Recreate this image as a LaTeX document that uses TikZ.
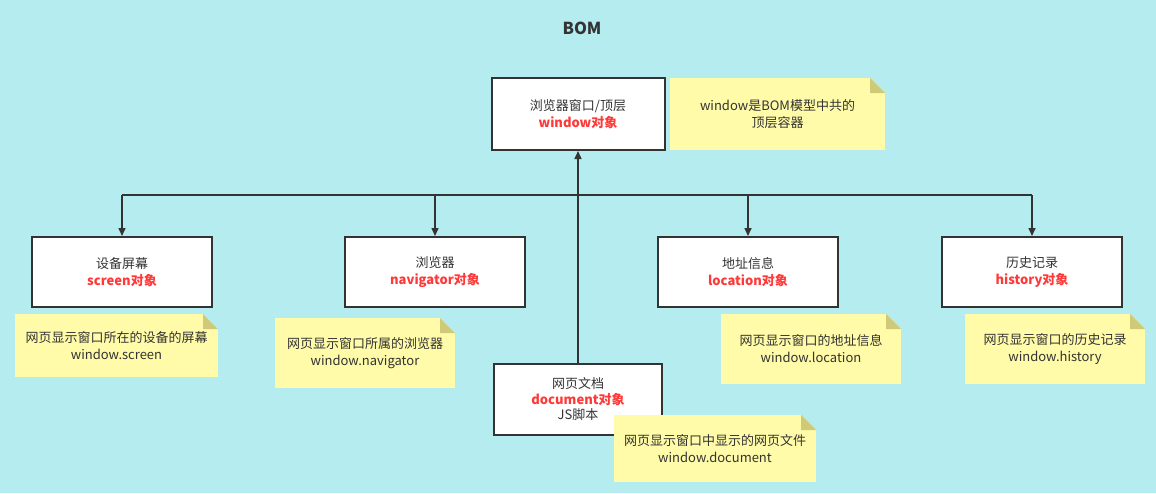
\documentclass[tikz,border=0pt]{standalone}
\usepackage{fontspec}
\setmainfont{Noto Sans CJK SC}
\usetikzlibrary{arrows.meta}
\definecolor{bg}{HTML}{B4ECF0}
\definecolor{ink}{HTML}{333333}
\definecolor{objred}{HTML}{FF3838}
\definecolor{notefill}{HTML}{FFFBA8}
\definecolor{notefold}{HTML}{CFCA78}
\newcommand{\obj}[1]{{\bfseries\color{objred}#1}}
\begin{document}
\begin{tikzpicture}[x=1pt,y=-1pt,
  txt/.style={text=ink, align=center, font=\fontsize{13}{17}\selectfont},
  objbox/.style={txt, draw=ink, line width=2pt, fill=white, inner sep=0pt,
    minimum width=180pt, minimum height=70pt},
  note/.style={txt, fill=notefill, inner sep=0pt,
    minimum width=180pt, minimum height=70pt,
    path picture={
      \fill[bg] ([xshift=-15pt]path picture bounding box.north east)
        -- (path picture bounding box.north east)
        -- ([yshift=-15pt]path picture bounding box.north east) -- cycle;
      \fill[notefold] ([xshift=-15pt]path picture bounding box.north east)
        -- ([xshift=-15pt,yshift=-15pt]path picture bounding box.north east)
        -- ([yshift=-15pt]path picture bounding box.north east) -- cycle;
    }},
  wire/.style={draw=ink, line width=1.5pt},
  tip/.style={-{Triangle[length=8pt,width=7pt]}}
]
\fill[bg] (0,0) rectangle (1156,493);

% title
\node[text=ink, font=\fontsize{16.5}{20}\selectfont\bfseries] (title) at (582,28) {BOM};

% objects
\node[objbox, minimum width=173pt, minimum height=72pt] (window) at (578,114)
  {浏览器窗口/顶层\\\obj{window对象}};
\node[objbox] (screen) at (122,272) {设备屏幕\\\obj{screen对象}};
\node[objbox] (navigator) at (435,272) {浏览器\\\obj{navigator对象}};
\node[objbox] (location) at (748,272) {地址信息\\\obj{location对象}};
\node[objbox] (history) at (1032,272) {历史记录\\\obj{history对象}};
\node[objbox, minimum width=168pt, minimum height=71pt,
  font=\fontsize{13}{15.5}\selectfont] (document) at (578,399.5)
  {网页文档\\\obj{document对象}\\JS脚本};

% notes
\node[note, minimum width=215pt, minimum height=72pt] (windownote) at (777.5,114)
  {window是BOM模型中共的\\顶层容器};
\node[note, minimum width=203pt, minimum height=63pt] (screennote) at (116.5,345.5)
  {网页显示窗口所在的设备的屏幕\\window.screen};
\node[note] (navigatornote) at (365,353)
  {网页显示窗口所属的浏览器\\window.navigator};
\node[note] (locationnote) at (811,349)
  {网页显示窗口的地址信息\\window.location};
\node[note] (historynote) at (1055,349)
  {网页显示窗口的历史记录\\window.history};
\node[note, minimum width=202pt, minimum height=67pt] (documentnote) at (715,448.5)
  {网页显示窗口中显示的网页文件\\window.document};

% connectors
\coordinate (bus) at (578,195);
\draw[wire] (screen.north |- bus) -- (history.north |- bus);
\foreach \c in {screen,navigator,location,history}
  \draw[wire,tip] (\c.north |- bus) -- (\c.north);
\draw[wire,tip] (document.north) -- (window.south);
\end{tikzpicture}
\end{document}
